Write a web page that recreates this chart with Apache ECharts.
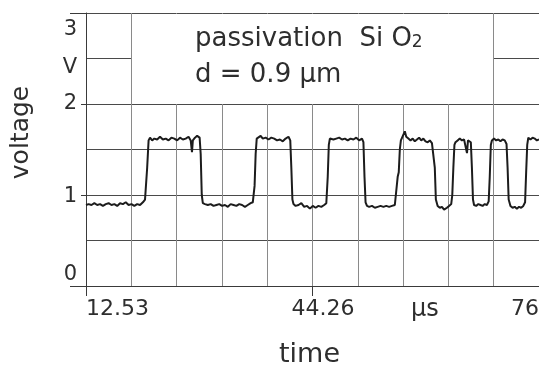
<!DOCTYPE html>
<html><head><meta charset="utf-8">
<script src="https://cdn.jsdelivr.net/npm/echarts@6/dist/echarts.min.js"></script>
<style>html,body{margin:0;padding:0;background:#fff}#c{width:539px;height:365px}</style>
</head><body><div id="c"></div>
<script>
// time in microseconds, voltage in V
const timeUs = [
  12.53,12.9,13.3,13.7,14.1,14.5,14.9,15.3,15.7,16.1,16.5,16.9,17.3,17.7,18.1,18.5,18.9,19.3,19.7,20.1,20.5,20.8,21.1,21.3,
  21.5,21.8,22.1,22.5,22.9,23.3,23.7,24.1,24.5,24.9,25.3,25.7,26.1,26.5,26.9,27.2,27.38,27.5,27.8,28.1,28.45,28.6,28.75,28.9,
  29.2,29.6,30.0,30.4,30.8,31.2,31.6,32.0,32.4,32.8,33.2,33.6,34.0,34.4,34.8,35.2,35.6,35.9,36.15,36.3,36.45,
  36.7,37.0,37.3,37.7,38.1,38.5,38.9,39.3,39.7,40.1,40.5,40.9,41.15,41.3,41.45,
  41.6,41.9,42.3,42.7,43.1,43.5,43.9,44.3,44.7,45.1,45.5,45.9,46.2,46.4,46.55,46.7,
  46.9,47.2,47.6,48.0,48.4,48.8,49.2,49.6,50.0,50.4,50.8,51.2,51.4,51.55,51.7,
  51.9,52.2,52.6,53.0,53.4,53.8,54.2,54.6,55.0,55.4,55.8,56.05,56.2,56.35,56.5,56.65,
  56.9,57.2,57.4,57.7,58.0,58.3,58.6,58.9,59.2,59.5,59.8,60.1,60.4,60.7,61.0,61.25,61.4,61.55,
  61.8,62.1,62.4,62.7,62.9,63.1,63.4,63.7,63.85,64.0,64.15,
  64.3,64.6,64.9,65.2,65.5,65.75,65.91,66.05,66.3,66.45,66.6,66.75,
  66.9,67.2,67.5,67.8,68.1,68.4,68.7,68.95,69.1,69.25,
  69.4,69.7,70.0,70.3,70.6,70.9,71.2,71.45,71.6,71.75,
  72.0,72.3,72.6,72.9,73.2,73.5,73.8,74.05,74.2,74.35,
  74.5,74.8,75.1,75.4,75.7,76.0
];
const voltage = [
  0.89,0.90,0.89,0.91,0.89,0.90,0.88,0.90,0.91,0.89,0.90,0.88,0.91,0.90,0.92,0.89,0.90,0.88,0.90,0.89,0.92,0.95,1.30,1.60,
  1.63,1.60,1.62,1.61,1.64,1.61,1.62,1.60,1.63,1.62,1.60,1.63,1.61,1.62,1.64,1.60,1.47,1.60,1.63,1.65,1.63,1.45,1.00,0.91,
  0.90,0.89,0.90,0.88,0.89,0.90,0.88,0.89,0.87,0.90,0.89,0.88,0.90,0.89,0.87,0.89,0.91,0.92,1.10,1.45,1.62,
  1.63,1.65,1.62,1.63,1.61,1.63,1.62,1.60,1.61,1.59,1.62,1.64,1.60,1.30,0.95,
  0.90,0.88,0.89,0.91,0.87,0.88,0.85,0.88,0.86,0.88,0.87,0.89,0.91,1.20,1.55,1.62,
  1.63,1.61,1.62,1.63,1.61,1.62,1.60,1.62,1.61,1.63,1.60,1.62,1.58,1.20,0.92,
  0.88,0.87,0.88,0.86,0.87,0.88,0.87,0.88,0.87,0.88,0.89,0.90,1.20,1.25,1.50,1.60,
  1.62,1.70,1.64,1.62,1.60,1.62,1.59,1.61,1.63,1.60,1.62,1.59,1.58,1.60,1.57,1.58,1.30,0.95,
  0.88,0.86,0.87,0.84,0.83,0.86,0.88,0.90,1.00,1.30,1.55,
  1.58,1.60,1.62,1.60,1.61,1.62,1.46,1.60,1.61,1.58,1.30,0.95,
  0.89,0.88,0.90,0.89,0.88,0.90,0.89,0.93,1.20,1.55,
  1.60,1.62,1.60,1.61,1.59,1.61,1.60,1.56,1.30,0.95,
  0.88,0.86,0.87,0.85,0.87,0.86,0.88,0.92,1.25,1.55,
  1.63,1.61,1.63,1.62,1.60,1.61
];
const xMin = 12.53, xMax = 76, xDivisions = 10;
const yMin = 0, yMax = 3, yStep = 0.5;
const xLabelValues = [12.53, 44.26, 60, 76];
const xLabelTexts  = ['12.53', '44.26', 'μs', '76'];
const xTickValues  = [12.53, 44.26];
const yLabelValues = [0, 1, 2, 2.5, 3];
const yLabelTexts  = ['0', '1', '2', 'V', '3'];
const yShortTicks  = [1, 2];
const yLongTicks   = [0, 3];
const titleLine1 = 'passivation  Si O';
const titleSub = '2';
const titleLine2 = 'd = 0.9 μm';
const yName = 'voltage';
const xName = 'time';

const FONT = 'DejaVu Sans';
const TXT = '#2e2e2e';
const seriesData = timeUs.map((t, i) => [t, voltage[i]]);

const yRich = {
  y0: {padding: [0, 0, 22, 0]},
  y1: {padding: [4, 0, 0, 0]},
  y2: {padding: [0, 0, 0, 0]},
  yV: {padding: [18, 0, 0, 0]},
  y3: {padding: [34, 0, 0, 0]}
};
Object.values(yRich).forEach(r => { r.fontFamily = FONT; r.fontSize = 21; r.color = TXT; });
const yKeys = ['y0', 'y1', 'y2', 'yV', 'y3'];

const xRich = {
  a: {padding: [0, 0, 0, 0]},
  b: {padding: [0, 0, 0, 21]},
  c: {padding: [0, 0, 0, 0], fontSize: 24},
  d: {padding: [0, 0, 0, 0]}
};
Object.values(xRich).forEach(r => { r.fontFamily = FONT; if (!r.fontSize) r.fontSize = 22; r.color = TXT; });
const xKeys = ['a', 'b', 'c', 'd'];

function findIdx(arr, v) { return arr.findIndex(x => Math.abs(x - v) < 1e-6); }

const chart = echarts.init(document.getElementById('c'), null, {renderer: 'canvas'});
const gridLineH = {show: true, lineStyle: {color: '#4a4a4a', width: 1, type: 'solid'}};
const gridLineV = {show: true, lineStyle: {color: '#8a8a8a', width: 1, type: 'solid'}};

chart.setOption({
  backgroundColor: '#ffffff',
  animation: false,
  title: {
    text: titleLine1 + '{sub|' + titleSub + '}\n' + titleLine2,
    left: 132, top: 14,
    padding: [7, 0, 11, 63],
    backgroundColor: '#ffffff',
    textStyle: {
      fontFamily: FONT, fontSize: 26, fontWeight: 'normal', color: TXT,
      lineHeight: 36, width: 298, height: 72,
      rich: {sub: {fontFamily: FONT, fontSize: 17, color: TXT, lineHeight: 36, padding: [8, 0, 0, 0]}}
    }
  },
  grid: {left: 86, top: 13, right: 0, bottom: 79, containLabel: false, outerBoundsMode: 'none'},
  xAxis: [
    {
      type: 'value', position: 'bottom', min: xMin, max: xMax, interval: (xMax - xMin) / xDivisions,
      axisLine: {show: true, onZero: false, lineStyle: {color: '#3a3a3a', width: 1}},
      axisTick: {show: false}, axisLabel: {show: false},
      splitLine: gridLineV,
      name: xName, nameLocation: 'middle', nameGap: 55,
      nameTextStyle: {fontFamily: FONT, fontSize: 27, color: TXT, padding: [0, 6, 0, 0]}
    },
    {
      type: 'value', position: 'bottom', min: xMin, max: xMax, interval: (xMax - xMin) / xDivisions,
      axisLine: {show: false},
      splitLine: {show: false},
      axisTick: {show: true, customValues: xTickValues, length: 10, lineStyle: {color: '#3a3a3a', width: 1}},
      axisLabel: {
        show: true, customValues: xLabelValues, margin: 12,
        alignMinLabel: 'left', alignMaxLabel: 'right',
        formatter: function (v) { const i = findIdx(xLabelValues, v); return i < 0 ? '' : '{' + xKeys[i] + '|' + xLabelTexts[i] + '}'; },
        rich: xRich
      }
    }
  ],
  yAxis: [
    {
      type: 'value', position: 'left', min: yMin, max: yMax, interval: yStep,
      axisLine: {show: true, onZero: false, lineStyle: {color: '#3a3a3a', width: 1}},
      axisTick: {show: false}, axisLabel: {show: false},
      splitLine: gridLineH,
      name: yName, nameLocation: 'middle', nameGap: 52, nameRotate: 90,
      nameTextStyle: {fontFamily: FONT, fontSize: 25, color: TXT, padding: [0, 0, 0, 34]}
    },
    {
      type: 'value', position: 'left', min: yMin, max: yMax, interval: yStep,
      axisLine: {show: false}, splitLine: {show: false},
      axisTick: {show: true, customValues: yShortTicks, length: 5, lineStyle: {color: '#3a3a3a', width: 1}},
      axisLabel: {
        show: true, customValues: yLabelValues, margin: 9,
        formatter: function (v) { const i = findIdx(yLabelValues, v); return i < 0 ? '' : '{' + yKeys[i] + '|' + yLabelTexts[i] + '}'; },
        rich: yRich
      }
    },
    {
      type: 'value', position: 'left', min: yMin, max: yMax, interval: yStep,
      axisLine: {show: false}, splitLine: {show: false}, axisLabel: {show: false},
      axisTick: {show: true, customValues: yLongTicks, length: 16, lineStyle: {color: '#3a3a3a', width: 1}}
    }
  ],
  series: [{
    type: 'line', xAxisIndex: 0, yAxisIndex: 0,
    data: seriesData, showSymbol: false, symbol: 'none',
    lineStyle: {color: '#1c1c1c', width: 2}, z: 3
  }]
});
</script></body></html>
